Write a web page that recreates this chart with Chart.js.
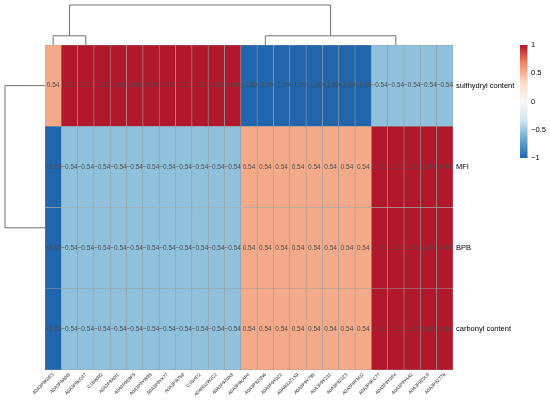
<!DOCTYPE html>
<html>
<head>
<meta charset="utf-8">
<script src="https://cdn.jsdelivr.net/npm/chart.js@4.4.1/dist/chart.umd.min.js"></script>
<style>
html,body{margin:0;padding:0;background:#fff;}
#wrap{width:550px;height:401px;position:relative;}
</style>
</head>
<body>
<div id="wrap"><canvas id="c"></canvas></div>
<script>
const colNames = ["A0A3P9K0E3","A0A3P9A0I8","A0A3P9KQ37","C1BWM2","A0A3P9A0I1","A0A3P9E9F5","A0A3P9YW95","A0A3P9YX77","A0A3P9I769","C1BHD2","A0A6G2W2C2","A0A3P9Z0K8","A0A3P9KAP4","A0A3P9Z0N6","A0A3P9Y0Z2","A0A6G2Z1X9","A0A3P9Y798","A0A3P9Y232","A0A3P9Z2Z3","A0A3P9YMJ2","A0A3P9KC77","A0A3P9Y0P4","A0A3P9Y4A2","A0A3P9Z0L9","A0A3P9Z776"];
const rowNames = ["sulfhydryl content","MFI","BPB","carbonyl content"];
const sulfhydryl = [0.54, 1,1,1,1,1,1,1,1,1,1,1, -1,-1,-1,-1,-1,-1,-1,-1, -0.54,-0.54,-0.54,-0.54,-0.54];
const mfi        = [-1, -0.54,-0.54,-0.54,-0.54,-0.54,-0.54,-0.54,-0.54,-0.54,-0.54,-0.54, 0.54,0.54,0.54,0.54,0.54,0.54,0.54,0.54, 1,1,1,1,1];
const bpb        = [-1, -0.54,-0.54,-0.54,-0.54,-0.54,-0.54,-0.54,-0.54,-0.54,-0.54,-0.54, 0.54,0.54,0.54,0.54,0.54,0.54,0.54,0.54, 1,1,1,1,1];
const carbonyl   = [-1, -0.54,-0.54,-0.54,-0.54,-0.54,-0.54,-0.54,-0.54,-0.54,-0.54,-0.54, 0.54,0.54,0.54,0.54,0.54,0.54,0.54,0.54, 1,1,1,1,1];
const rowValues = [sulfhydryl, mfi, bpb, carbonyl];
const legendTicks = [1, 0.5, 0, -0.5, -1];
// dendrogram links: [pos1, pos2, h1, h2, h]  (positions in column / row index units)
const colLinks = [[0, 2, 0, 0, 0.92], [13, 21, 0, 0, 0.92], [1, 17, 0.92, 0.92, 4]];
const colTreeMax = 4;
const rowLinks = [[0, 1.75, 0, 0, 7.7]];
const rowTreeMax = 7.7;

const stops = [[-1,[33,102,172]],[-0.6667,[103,169,207]],[-0.3333,[209,229,240]],[0,[247,247,247]],[0.3333,[253,219,199]],[0.6667,[239,138,98]],[1,[178,24,43]]];
function colorFor(v){
  for(let i=0;i<stops.length-1;i++){
    const a=stops[i], b=stops[i+1];
    if(v<=b[0]){
      const t=(v-a[0])/(b[0]-a[0]);
      const c=a[1].map((x,k)=>Math.round(x+(b[1][k]-x)*t));
      return `rgb(${c[0]},${c[1]},${c[2]})`;
    }
  }
  const c=stops[stops.length-1][1];return `rgb(${c[0]},${c[1]},${c[2]})`;
}
function fmt(v){const s=Math.abs(v).toFixed(2);return v<0?'\u2212'+s:s;}

const datasets = rowValues.map((vals,r)=>({
  label: rowNames[r],
  data: vals.map(()=>[r, r+1]),
  values: vals,
  backgroundColor: vals.map(colorFor),
  borderColor: '#9a9a9a',
  borderWidth: 0.6,
  borderSkipped: false,
  barPercentage: 1,
  categoryPercentage: 1
}));

const cellText = {
  id:'cellText',
  afterDatasetsDraw(chart){
    const ctx=chart.ctx;
    ctx.save();
    ctx.font='6.5px "Liberation Sans", Arial, sans-serif';
    ctx.fillStyle='#4d4d4d';
    ctx.textAlign='center';ctx.textBaseline='middle';
    chart.data.datasets.forEach((ds,di)=>{
      const meta=chart.getDatasetMeta(di);
      meta.data.forEach((el,i)=>{
        ctx.fillText(fmt(ds.values[i]), el.x, (el.y+el.base)/2);
      });
    });
    ctx.restore();
  }
};

const dendro = {
  id:'dendro',
  afterDraw(chart){
    const ctx=chart.ctx, xs=chart.scales.x, ys=chart.scales.y, ca=chart.chartArea;
    ctx.save();
    ctx.strokeStyle='#707070';ctx.lineWidth=1;
    const cDepth=ca.top-5;
    const cy=h=>ca.top - h/colTreeMax*cDepth;
    colLinks.forEach(([p1,p2,h1,h2,h])=>{
      const x1=xs.getPixelForValue(p1), x2=xs.getPixelForValue(p2);
      ctx.beginPath();
      ctx.moveTo(x1,cy(h1));ctx.lineTo(x1,cy(h));ctx.lineTo(x2,cy(h));ctx.lineTo(x2,cy(h2));
      ctx.stroke();
    });
    const rDepth=ca.left-5;
    const rx=h=>ca.left - h/rowTreeMax*rDepth;
    rowLinks.forEach(([p1,p2,h1,h2,h])=>{
      const y1=ys.getPixelForValue(p1+0.5), y2=ys.getPixelForValue(p2+0.5);
      ctx.beginPath();
      ctx.moveTo(rx(h1),y1);ctx.lineTo(rx(h),y1);ctx.lineTo(rx(h),y2);ctx.lineTo(rx(h2),y2);
      ctx.stroke();
    });
    ctx.restore();
  }
};

const colorBar = {
  id:'colorBar',
  afterDraw(chart){
    const ctx=chart.ctx, ca=chart.chartArea;
    const x=ca.right+67, w=7.5, top=ca.top, h=113;
    const g=ctx.createLinearGradient(0,top,0,top+h);
    stops.forEach(([v,c])=>g.addColorStop((1-v)/2,`rgb(${c[0]},${c[1]},${c[2]})`));
    ctx.save();
    ctx.fillStyle=g;ctx.fillRect(x,top,w,h);
    ctx.font='7.5px "Liberation Sans", Arial, sans-serif';
    ctx.fillStyle='#000';ctx.textAlign='left';ctx.textBaseline='middle';
    legendTicks.forEach(v=>{
      const y=top+(1-v)/2*h;
      ctx.fillText(v===0?'0':fmt(v).replace(/\.?0+$/,''), x+w+3.5, y);
    });
    ctx.restore();
  }
};

new Chart(document.getElementById('c'),{
  type:'bar',
  data:{labels:colNames, datasets},
  options:{
    responsive:true, maintainAspectRatio:false, animation:false,
    layout:{padding:{left:45,top:45,right:0,bottom:0}},
    plugins:{legend:{display:false},tooltip:{enabled:false}},
    scales:{
      x:{
        stacked:true, offset:true,
        grid:{display:false,drawTicks:false,tickLength:0}, border:{display:false},
        ticks:{autoSkip:false,minRotation:45,maxRotation:45,padding:2,color:'#222',
          font:{size:4.6,family:'"Liberation Sans", Arial, sans-serif'}},
        afterFit(s){s.height=31;}
      },
      y:{
        type:'linear', stacked:false, min:0, max:4, reverse:true, position:'right',
        grid:{display:false,drawTicks:false,tickLength:0}, border:{display:false},
        afterBuildTicks(s){s.ticks=[0.5,1.5,2.5,3.5].map(v=>({value:v}));},
        ticks:{padding:3,color:'#000',font:{size:7.5,family:'"Liberation Sans", Arial, sans-serif'},
          callback:(v)=>rowNames[Math.floor(v)]},
        afterFit(s){s.width=97;}
      }
    }
  },
  plugins:[cellText,dendro,colorBar]
});
</script>
</body>
</html>
